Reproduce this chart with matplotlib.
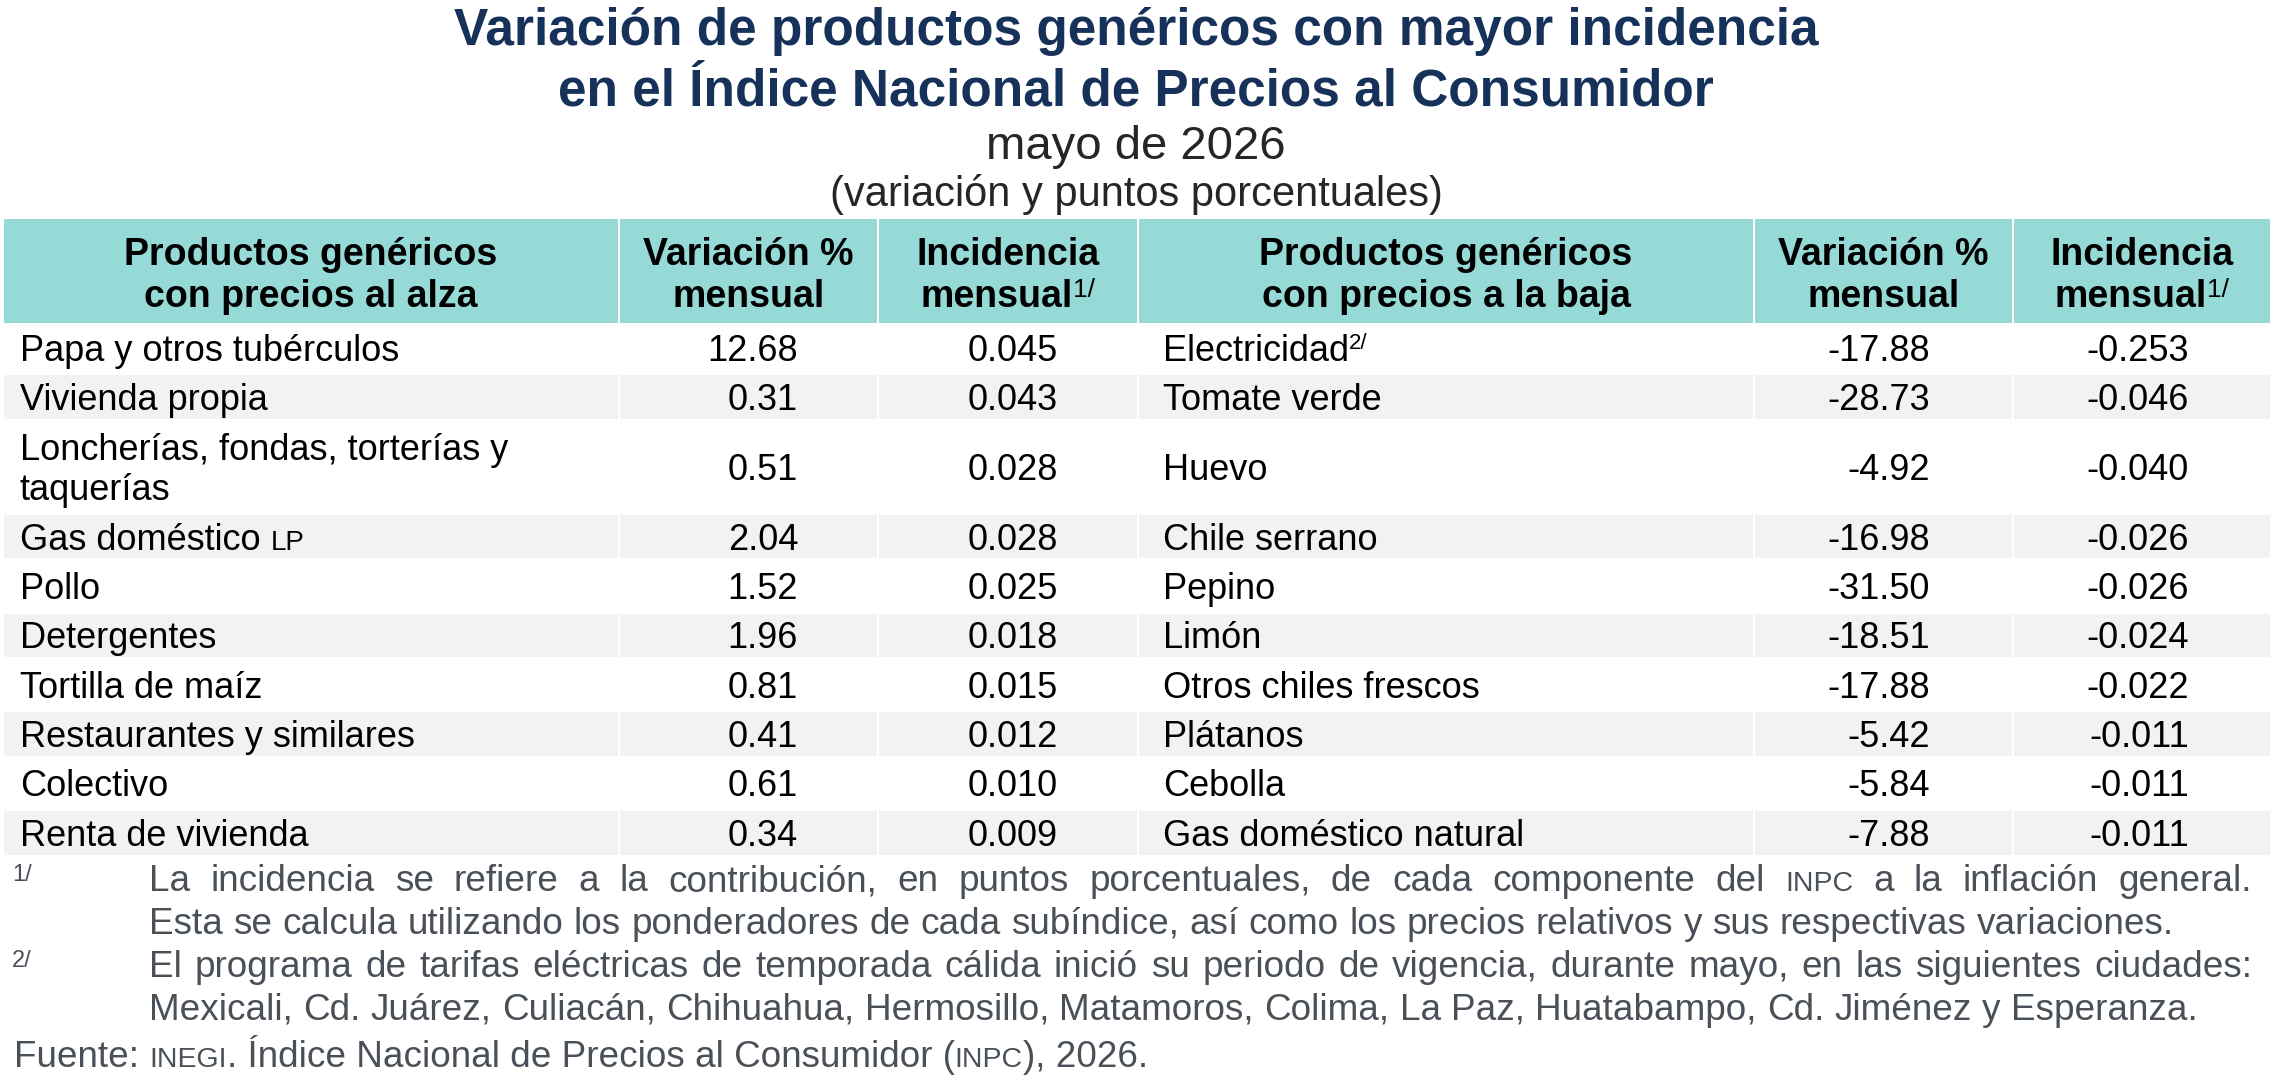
import matplotlib.pyplot as plt
from matplotlib.patches import Rectangle

plt.rcParams['font.family'] = ['Liberation Sans', 'DejaVu Sans']

# Datos del cuadro
productos_alza = ['Papa y otros tubérculos', 'Vivienda propia',
                  'Loncherías, fondas, torterías y\ntaquerías', 'Gas doméstico',
                  'Pollo', 'Detergentes', 'Tortilla de maíz',
                  'Restaurantes y similares', 'Colectivo', 'Renta de vivienda']
variacion_alza = [12.68, 0.31, 0.51, 2.04, 1.52, 1.96, 0.81, 0.41, 0.61, 0.34]
incidencia_alza = [0.045, 0.043, 0.028, 0.028, 0.025, 0.018, 0.015, 0.012, 0.010, 0.009]

productos_baja = ['Electricidad', 'Tomate verde', 'Huevo', 'Chile serrano', 'Pepino',
                  'Limón', 'Otros chiles frescos', 'Plátanos', 'Cebolla',
                  'Gas doméstico natural']
variacion_baja = [-17.88, -28.73, -4.92, -16.98, -31.50, -18.51, -17.88, -5.42, -5.84, -7.88]
incidencia_baja = [-0.253, -0.046, -0.040, -0.026, -0.026, -0.024, -0.022, -0.011, -0.011, -0.011]

# sufijos: versalitas (LP) y llamadas (2/)
versalitas_alza = {3: 'LP'}
llamadas_baja = {0: '2/'}

encabezados = [['Productos genéricos', 'con precios al alza'],
               ['Variación %', 'mensual'],
               ['Incidencia', 'mensual'],
               ['Productos genéricos', 'con precios a la baja'],
               ['Variación %', 'mensual'],
               ['Incidencia', 'mensual']]

titulo = ['Variación de productos genéricos con mayor incidencia',
          'en el Índice Nacional de Precios al Consumidor']
subtitulo = 'mayo de 2026'
unidades = '(variación y puntos porcentuales)'

nota1 = ['La incidencia se refiere a la contribución, en puntos porcentuales, de cada componente del INPC a la inflación general.',
         'Esta se calcula utilizando los ponderadores de cada subíndice, así como los precios relativos y sus respectivas variaciones.']
nota2 = ['El programa de tarifas eléctricas de temporada cálida inició su periodo de vigencia, durante mayo, en las siguientes ciudades:',
         'Mexicali, Cd. Juárez, Culiacán, Chihuahua, Hermosillo, Matamoros, Colima, La Paz, Huatabampo, Cd. Jiménez y Esperanza.']

# Colores
AZUL = '#17325a'
TEAL = '#96dad7'
GRIS = '#f2f2f2'
NOTA = '#4a5058'

W, H = 2272, 1082
fig = plt.figure(figsize=(W / 100, H / 100), dpi=100)
ax = fig.add_axes([0, 0, 1, 1])
ax.set_xlim(0, W)
ax.set_ylim(H, 0)
ax.axis('off')
fig.canvas.draw()
rend = fig.canvas.get_renderer()


def ancho(s, size, weight='normal'):
    t = ax.text(0, 0, s, fontsize=size, fontweight=weight)
    w = t.get_window_extent(rend).width
    t.remove()
    return w


def em(size):
    return size * 100 / 72


def piezas(x, y, partes, ha='left', color='black'):
    # partes: (texto, tamaño, peso, subida en px)
    anchos = [ancho(p[0], p[1], p[2]) for p in partes]
    total = sum(anchos)
    if ha == 'center':
        x = x - total / 2
    elif ha == 'right':
        x = x - total
    for (txt, size, weight, dy), w in zip(partes, anchos):
        ax.text(x, y - dy, txt, fontsize=size, fontweight=weight, color=color,
                ha='left', va='baseline')
        x += w


# Título
for linea, yb in zip(titulo, [45, 105]):
    ax.text(W / 2, yb, linea, fontsize=37, fontweight='bold', color=AZUL,
            ha='center', va='baseline')
ax.text(W / 2, 159, subtitulo, fontsize=34, color='#262626', ha='center', va='baseline')
ax.text(W / 2, 206, unidades, fontsize=30, color='#262626', ha='center', va='baseline')

# Columnas
cols = [(4, 618), (620, 877), (879, 1137), (1139, 1753), (1755, 2012), (2014, 2270)]
top_enc, bot_enc = 219, 323

for (x0, x1) in cols:
    ax.add_patch(Rectangle((x0, top_enc), x1 - x0, bot_enc - top_enc, color=TEAL, lw=0))

FS_ENC = 27
for k, ((x0, x1), (l1, l2)) in enumerate(zip(cols, encabezados)):
    xc = (x0 + x1) / 2
    ax.text(xc, 265, l1, fontsize=FS_ENC, fontweight='bold', ha='center', va='baseline')
    if k in (2, 5):
        piezas(xc, 307, [(l2, FS_ENC, 'bold', 0), ('1/', 19, 'normal', 10)], ha='center')
    else:
        ax.text(xc, 307, l2, fontsize=FS_ENC, fontweight='bold', ha='center', va='baseline')

# Filas
alturas = [49.4] * len(productos_alza)
alturas[2] = 90
FS = 26
sube = 0.36 * em(FS)
y = bot_enc
for i in range(len(productos_alza)):
    h = alturas[i]
    yc = y + h / 2
    if i % 2 == 1:
        for (x0, x1) in cols:
            ax.add_patch(Rectangle((x0, y + 3), x1 - x0, h - 6, color=GRIS, lw=0))

    # lado izquierdo
    lineas = productos_alza[i].split('\n')
    if len(lineas) == 2:
        ax.text(cols[0][0] + 16, yc - 20 + sube, lineas[0], fontsize=FS, va='baseline')
        ax.text(cols[0][0] + 16, yc + 20 + sube, lineas[1], fontsize=FS, va='baseline')
    elif i in versalitas_alza:
        piezas(cols[0][0] + 16, yc + sube, [(lineas[0] + ' ', FS, 'normal', 0),
                                            (versalitas_alza[i], 20, 'normal', 0)])
    else:
        ax.text(cols[0][0] + 16, yc + sube, lineas[0], fontsize=FS, va='baseline')
    ax.text(cols[1][1] - 79, yc + sube, f'{variacion_alza[i]:.2f}', fontsize=FS,
            ha='right', va='baseline')
    ax.text(cols[2][1] - 79, yc + sube, f'{incidencia_alza[i]:.3f}', fontsize=FS,
            ha='right', va='baseline')

    # lado derecho
    if i in llamadas_baja:
        piezas(cols[3][0] + 24, yc + sube, [(productos_baja[i], FS, 'normal', 0),
                                            (llamadas_baja[i], 16, 'normal', 12)])
    else:
        ax.text(cols[3][0] + 24, yc + sube, productos_baja[i], fontsize=FS, va='baseline')
    ax.text(cols[4][1] - 82, yc + sube, f'{variacion_baja[i]:.2f}', fontsize=FS,
            ha='right', va='baseline')
    ax.text(cols[5][1] - 81, yc + sube, f'{incidencia_baja[i]:.3f}', fontsize=FS,
            ha='right', va='baseline')
    y += h

# Notas
FN = 26.6
SC = 20.5
x_izq, x_der = 149, 2252


def justificar(texto, yb, justificado=True):
    palabras = texto.split(' ')
    tams = [SC if p in ('INPC', 'INEGI') else FN for p in palabras]
    anchos = [ancho(p, s) for p, s in zip(palabras, tams)]
    if justificado:
        hueco = (x_der - x_izq - sum(anchos)) / (len(palabras) - 1)
    else:
        hueco = ancho('a a', FN) - ancho('aa', FN)
    x = x_izq
    for p, s, w in zip(palabras, tams, anchos):
        ax.text(x, yb, p, fontsize=s, color=NOTA, va='baseline')
        x += w + hueco


base = 891
paso = 43
ax.text(12, base - 10, '1/', fontsize=17, color=NOTA, va='baseline')
justificar(nota1[0], base)
justificar(nota1[1], base + paso, justificado=False)
ax.text(12, base + 2 * paso - 10, '2/', fontsize=17, color=NOTA, va='baseline')
justificar(nota2[0], base + 2 * paso)
justificar(nota2[1], base + 3 * paso, justificado=False)

piezas(14, base + 4 * paso + 4, [('Fuente: ', FN, 'normal', 0), ('INEGI', SC, 'normal', 0),
                                 ('. Índice Nacional de Precios al Consumidor (', FN, 'normal', 0),
                                 ('INPC', SC, 'normal', 0), ('), 2026.', FN, 'normal', 0)],
       color=NOTA)

fig.savefig('out.png', dpi=100)
